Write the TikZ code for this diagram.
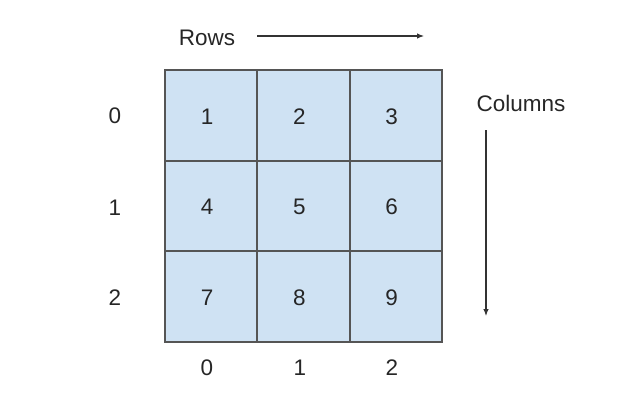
\documentclass[tikz,border=0pt]{standalone}
\usepackage{fontspec}
\setmainfont{Liberation Sans}
\usetikzlibrary{arrows.meta}
\definecolor{cellfill}{HTML}{CFE2F3}
\definecolor{cellline}{HTML}{555555}
\begin{document}
\begin{tikzpicture}[x=1pt,y=-1pt,
  cell/.style={fill=cellfill,minimum width=93pt,minimum height=91pt,inner sep=0pt},
  gridline/.style={draw=cellline,line width=2pt},
  lab/.style={font=\fontsize{22.5}{26}\selectfont,text=black!85,inner sep=0pt},
  arr/.style={draw=black!80,line width=1.1pt,-{Latex[length=7pt,width=5.5pt]}}]
\useasboundingbox (0,0) rectangle (637,400);
\foreach \r in {0,1,2} {
  \foreach \c in {0,1,2} {
    \pgfmathtruncatemacro{\n}{\r*3+\c+1}
    \node[cell,label={[lab,xshift=-4pt,yshift=-1pt]center:\n}] (c\r\c) at ({165+92.3*\c+46.15},{70+90.7*\r+45.35}) {};
  }
}
\coordinate (g0) at (165,70);
\coordinate (g1) at (257,70);
\coordinate (g2) at (350,70);
\coordinate (g3) at (442,70);
\coordinate (h0) at (165,342);
\coordinate (h1) at (257,342);
\coordinate (h2) at (350,342);
\coordinate (h3) at (442,342);
\coordinate (v1) at (165,161);
\coordinate (v2) at (165,251);
\coordinate (w1) at (442,161);
\coordinate (w2) at (442,251);
\draw[gridline] (g1) -- (h1);
\draw[gridline] (g2) -- (h2);
\draw[gridline] (v1) -- (w1);
\draw[gridline] (v2) -- (w2);
\draw[gridline] (g0) rectangle (h3);
\node[lab] (r0) at (115,116) {0};
\node[lab] (r1) at (115,208) {1};
\node[lab] (r2) at (115,298) {2};
\node[lab] (b0) at (207,368) {0};
\node[lab] (b1) at (300,368) {1};
\node[lab] (b2) at (392,368) {2};
\node[lab] (rows) at (207,38) {Rows};
\node[lab] (cols) at (521,103) {Columns};
\coordinate (ra) at (257,36);
\coordinate (rb) at (424,36);
\coordinate (ca) at (486,130);
\coordinate (cb) at (486,316);
\draw[arr] (ra) -- (rb);
\draw[arr] (ca) -- (cb);
\end{tikzpicture}
\end{document}
